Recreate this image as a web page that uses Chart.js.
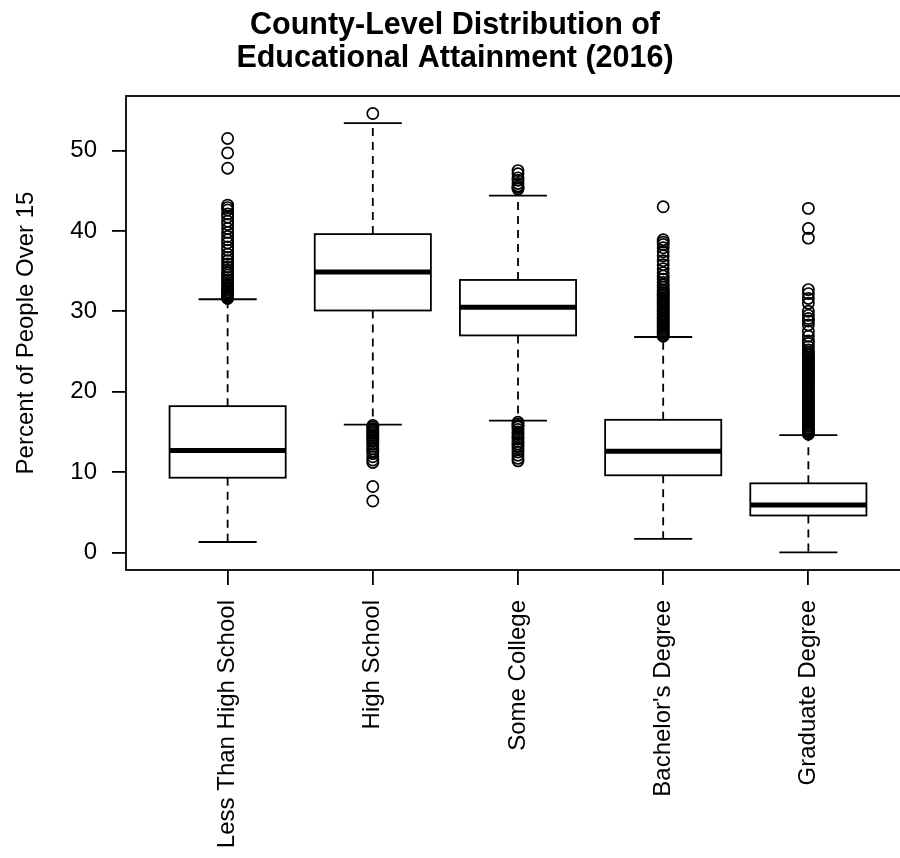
<!DOCTYPE html>
<html>
<head>
<meta charset="utf-8">
<title>County-Level Distribution of Educational Attainment (2016)</title>
<script src="https://cdn.jsdelivr.net/npm/chart.js@4/dist/chart.umd.min.js"></script>
<style>
  html, body { margin: 0; padding: 0; background: #fff; overflow: hidden; }
  #wrap { width: 900px; height: 858px; overflow: hidden; }
</style>
</head>
<body>
<div id="wrap"><canvas id="chart" width="1049" height="858"></canvas></div>
<script>
// five-number summaries per attainment level (percent of people over 15)
const categories = ['Less Than High School', 'High School', 'Some College', "Bachelor's Degree", 'Graduate Degree'];
const whiskerLow = [1.3, 15.9, 16.4, 1.7, 0.0];
const q1 = [9.3, 30.1, 27.0, 9.6, 4.6];
const median = [12.7, 34.9, 30.5, 12.6, 5.9];
const q3 = [18.2, 39.6, 33.9, 16.5, 8.6];
const whiskerHigh = [31.5, 53.4, 44.4, 26.8, 14.6];

// counties outside the whiskers
const outLessHS = [31.6, 31.7, 31.8, 31.9, 32.0, 32.1, 32.2, 32.4, 32.6, 32.8, 33.0, 33.3, 33.6, 33.9,
  34.2, 34.5, 34.8, 35.1, 35.5, 35.9, 36.3, 36.7, 37.1, 37.6, 38.0, 38.5, 38.9, 39.3, 39.8, 40.3,
  40.8, 41.2, 41.7, 42.1, 42.6, 42.9, 43.2, 47.8, 49.7, 51.5];
const outHighSchool = [6.4, 8.2, 11.2, 11.5, 11.9, 12.3, 12.6, 12.9, 13.2, 13.5, 13.8, 14.0, 14.2,
  14.4, 14.6, 14.8, 15.0, 15.2, 15.4, 15.6, 15.8, 54.6];
const outSomeCollege = [11.4, 11.7, 12.1, 12.5, 12.9, 13.2, 13.5, 13.8, 14.1, 14.4, 14.7, 15.0, 15.3,
  15.6, 15.8, 16.0, 16.2, 45.2, 45.4, 45.6, 45.9, 46.3, 46.6, 47.1, 47.5];
const outBachelors = [26.9, 27.1, 27.3, 27.5, 27.7, 27.9, 28.1, 28.3, 28.5, 28.7, 28.9, 29.1, 29.3,
  29.5, 29.7, 29.9, 30.1, 30.3, 30.5, 30.7, 30.9, 31.1, 31.3, 31.5, 31.7, 31.9, 32.1, 32.3, 32.5,
  32.7, 33.0, 33.3, 33.6, 34.0, 34.4, 34.8, 35.3, 35.8, 36.3, 36.9, 37.4, 37.9, 38.3, 38.6, 38.9, 43.0];
const outGraduate = [14.7, 14.9, 15.1, 15.3, 15.5, 15.7, 15.9, 16.1, 16.3, 16.5, 16.7, 16.9, 17.1,
  17.3, 17.5, 17.7, 17.9, 18.1, 18.3, 18.5, 18.7, 18.9, 19.1, 19.3, 19.5, 19.7, 19.9, 20.1, 20.3,
  20.5, 20.7, 20.9, 21.1, 21.3, 21.5, 21.7, 21.9, 22.1, 22.3, 22.5, 22.7, 22.9, 23.1, 23.3, 23.5,
  23.7, 23.9, 24.1, 24.3, 24.5, 24.7, 24.9, 25.2, 25.6, 26.0, 26.3, 26.9, 27.5, 28.3, 28.8, 29.1,
  29.5, 30.0, 31.0, 31.6, 32.2, 32.7, 39.1, 40.3, 42.8];

const yTicks = [0, 10, 20, 30, 40, 50];

const outliers = [outLessHS, outHighSchool, outSomeCollege, outBachelors, outGraduate];
const points = [];
outliers.forEach((vals, i) => vals.forEach(v => points.push({ x: i + 1, y: v })));

const font = "'Liberation Sans', Arial, Helvetica, sans-serif";
const boxWidth = 0.8;
const lw = 1.8;

// boxes, dashed whiskers and medians drawn under the outlier points
const boxPlot = {
  id: 'boxPlot',
  beforeDatasetsDraw(chart) {
    const { ctx, scales: { x, y } } = chart;
    ctx.save();
    ctx.strokeStyle = '#000';
    categories.forEach((c, i) => {
      const xc = x.getPixelForValue(i + 1);
      const half = x.getPixelForValue(i + 1 + boxWidth / 2) - xc;
      const cap = half / 2;
      const yLo = y.getPixelForValue(whiskerLow[i]);
      const yQ1 = y.getPixelForValue(q1[i]);
      const yMed = y.getPixelForValue(median[i]);
      const yQ3 = y.getPixelForValue(q3[i]);
      const yHi = y.getPixelForValue(whiskerHigh[i]);

      ctx.lineWidth = lw;
      ctx.setLineDash([8, 6]);
      ctx.beginPath();
      ctx.moveTo(xc, yQ1); ctx.lineTo(xc, yLo);
      ctx.moveTo(xc, yQ3); ctx.lineTo(xc, yHi);
      ctx.stroke();
      ctx.setLineDash([]);

      ctx.beginPath();
      ctx.moveTo(xc - cap, yLo); ctx.lineTo(xc + cap, yLo);
      ctx.moveTo(xc - cap, yHi); ctx.lineTo(xc + cap, yHi);
      ctx.stroke();

      ctx.fillStyle = '#fff';
      ctx.fillRect(xc - half, yQ3, 2 * half, yQ1 - yQ3);
      ctx.strokeRect(xc - half, yQ3, 2 * half, yQ1 - yQ3);

      ctx.lineWidth = 5;
      ctx.beginPath();
      ctx.moveTo(xc - half, yMed); ctx.lineTo(xc + half, yMed);
      ctx.stroke();
    });
    ctx.restore();
  },
  afterDatasetsDraw(chart) {
    const { ctx, chartArea: a } = chart;
    ctx.save();
    ctx.strokeStyle = '#000';
    ctx.lineWidth = lw;
    ctx.strokeRect(a.left, a.top, a.right - a.left, a.bottom - a.top);
    ctx.restore();
  }
};

const ctx = document.getElementById('chart').getContext('2d');
const chart = new Chart(ctx, {
  type: 'scatter',
  data: {
    datasets: [{
      label: 'Outliers',
      data: points,
      pointStyle: 'circle',
      pointRadius: 5.6,
      pointBorderWidth: 1.7,
      pointBorderColor: '#000',
      pointBackgroundColor: 'rgba(0,0,0,0)'
    }]
  },
  options: {
    responsive: false,
    animation: false,
    layout: { padding: { left: 0, right: 139, top: 0, bottom: 0 } },
    plugins: {
      legend: { display: false },
      tooltip: { enabled: false },
      title: {
        display: true,
        text: ['County-Level Distribution of', 'Educational Attainment (2016)'],
        color: '#000',
        font: { family: font, size: 30.5, weight: 'bold', lineHeight: 1.082 },
        padding: { top: 9, bottom: 21 }
      }
    },
    scales: {
      x: {
        type: 'linear',
        min: 0.3,
        max: 5.7,
        border: { display: false },
        grid: { drawOnChartArea: false, drawTicks: true, tickLength: 15, color: '#000', lineWidth: lw },
        ticks: {
          stepSize: 1,
          includeBounds: false,
          autoSkip: false,
          minRotation: 90,
          maxRotation: 90,
          padding: 15,
          color: '#000',
          font: { family: font, size: 24 },
          callback: v => categories[v - 1]
        },
        afterFit(scale) { scale.height = 288; }
      },
      y: {
        min: -2.18,
        max: 56.78,
        border: { display: false },
        grid: { drawOnChartArea: false, drawTicks: true, tickLength: 14, color: '#000', lineWidth: lw },
        afterBuildTicks(scale) { scale.ticks = yTicks.map(v => ({ value: v })); },
        ticks: {
          padding: 15,
          color: '#000',
          font: { family: font, size: 24 }
        },
        title: {
          display: true,
          text: 'Percent of People Over 15',
          color: '#000',
          font: { family: font, size: 24 },
          padding: { top: 12, bottom: 0 }
        },
        afterFit(scale) { scale.width = 126; }
      }
    }
  },
  plugins: [boxPlot]
});
</script>
</body>
</html>
